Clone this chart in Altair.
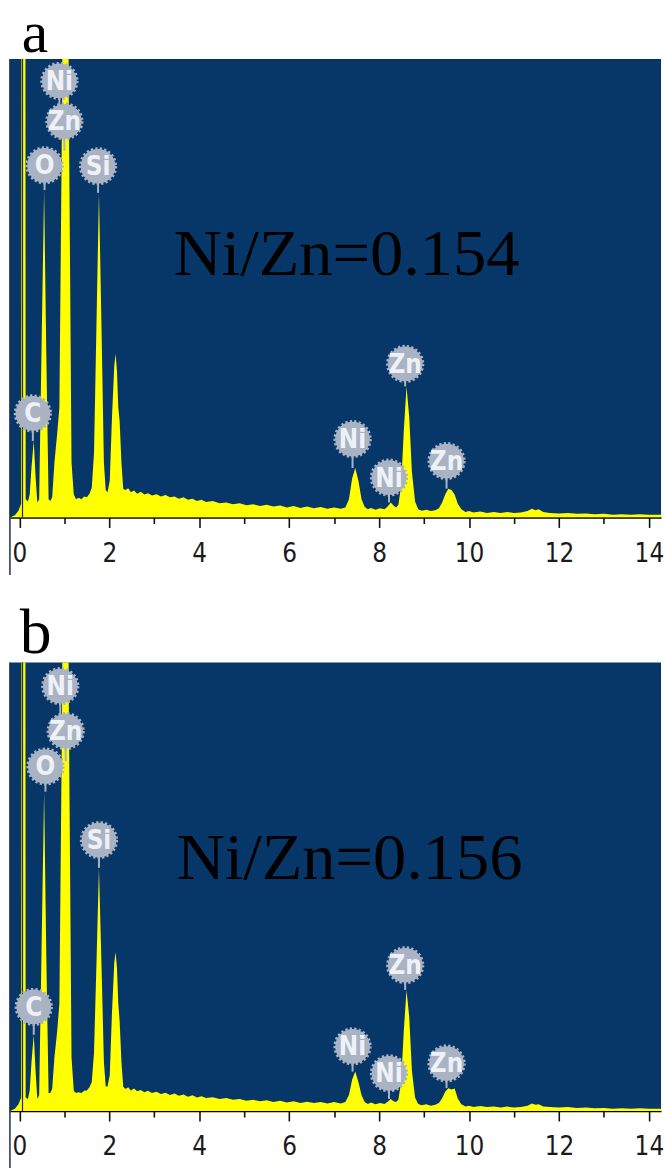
import altair as alt
import pandas as pd

# ---------------- data ----------------
tick_values = [0, 0.5, 1, 1.5, 2, 2.5, 3, 3.5, 4, 4.5, 5, 5.5, 6, 6.5, 7,
               7.5, 8, 8.5, 9, 9.5, 10, 10.5, 11, 11.5, 12, 12.5, 13, 13.5, 14]

# (energy keV, intensity as % of plot height)
spectrum_a = [
    (-0.21, 0.0), (-0.10, 0.5), (-0.02, 1.5), (0.04, 3.0), (0.05, 200), (0.13, 200), (0.14, 4.0),
    (0.19, 3.5), (0.23, 5.0), (0.27, 11), (0.32, 16.7), (0.36, 9), (0.40, 3.2), (0.44, 4.0),
    (0.49, 35), (0.55, 71.4), (0.60, 35), (0.65, 4.0), (0.69, 3.6), (0.73, 4.5), (0.78, 12),
    (0.84, 18.2), (0.89, 24), (0.95, 90), (1.02, 250), (1.10, 90), (1.16, 12), (1.21, 5.0),
    (1.26, 4.0), (1.32, 4.3), (1.38, 4.0), (1.44, 4.6), (1.50, 4.4), (1.56, 5.2), (1.61, 6.5),
    (1.66, 14), (1.72, 45), (1.77, 70.8), (1.82, 45), (1.88, 12), (1.92, 6.0), (1.96, 5.5),
    (2.01, 8), (2.06, 22), (2.11, 33), (2.14, 35.7), (2.17, 32), (2.20, 24), (2.23, 21),
    (2.27, 12), (2.31, 6.2), (2.36, 6.0), (2.42, 6.4), (2.48, 5.5), (2.55, 5.9), (2.62, 5.2),
    (2.70, 5.6), (2.78, 5.0), (2.86, 5.3), (2.95, 4.8), (3.05, 5.1), (3.15, 4.6), (3.25, 4.9),
    (3.35, 4.4), (3.45, 4.6), (3.55, 4.1), (3.65, 4.4), (3.75, 3.9), (3.85, 4.1), (3.95, 3.6),
    (4.05, 3.9), (4.15, 3.4), (4.30, 3.6), (4.45, 3.1), (4.60, 3.3), (4.75, 2.9), (4.90, 3.1),
    (5.05, 2.7), (5.20, 2.9), (5.35, 2.5), (5.50, 2.8), (5.65, 2.4), (5.80, 2.6), (5.95, 2.2),
    (6.10, 2.5), (6.25, 2.1), (6.40, 2.4), (6.55, 2.0), (6.70, 2.3), (6.85, 1.9), (7.00, 2.2),
    (7.15, 1.9), (7.25, 2.2), (7.33, 4.0), (7.40, 8.5), (7.47, 10.8), (7.54, 8.0), (7.61, 4.0),
    (7.68, 2.3), (7.75, 1.8), (7.82, 2.1), (7.92, 1.7), (8.02, 2.0), (8.12, 1.8), (8.19, 2.4),
    (8.26, 3.3), (8.32, 2.6), (8.38, 2.2), (8.43, 2.8), (8.49, 7.0), (8.55, 19), (8.61, 28.6),
    (8.67, 22), (8.73, 10), (8.80, 3.5), (8.87, 1.8), (8.95, 1.5), (9.05, 1.7), (9.15, 1.4),
    (9.25, 1.6), (9.33, 2.0), (9.40, 3.2), (9.47, 5.0), (9.54, 6.3), (9.61, 6.0), (9.68, 5.0),
    (9.75, 3.0), (9.83, 1.8), (9.92, 1.2), (10.00, 1.4), (10.10, 1.1), (10.25, 1.3), (10.40, 1.0),
    (10.55, 1.2), (10.70, 1.0), (10.85, 1.2), (11.00, 1.0), (11.15, 1.1), (11.30, 1.4), (11.40, 1.9),
    (11.48, 1.6), (11.55, 1.8), (11.65, 1.2), (11.80, 1.0), (12.00, 0.9), (12.20, 1.0), (12.40, 0.8),
    (12.60, 0.9), (12.80, 0.7), (13.00, 0.8), (13.20, 0.6), (13.40, 0.7), (13.60, 0.6), (13.80, 0.7),
    (14.00, 0.6), (14.27, 0.6),
]

spectrum_b = [
    (-0.21, 0.0), (-0.10, 0.5), (-0.02, 1.5), (0.04, 3.0), (0.05, 200), (0.13, 200), (0.14, 3.0),
    (0.19, 2.7), (0.23, 4.5), (0.27, 11), (0.32, 17.0), (0.36, 9), (0.40, 2.7), (0.44, 3.5),
    (0.49, 34), (0.55, 71.2), (0.60, 34), (0.65, 4.0), (0.69, 4.0), (0.73, 5.0), (0.78, 12),
    (0.84, 17.7), (0.89, 24), (0.95, 90), (1.02, 250), (1.10, 90), (1.16, 12), (1.21, 4.5),
    (1.26, 4.0), (1.32, 4.2), (1.38, 4.0), (1.44, 4.5), (1.50, 4.6), (1.56, 5.3), (1.61, 6.5),
    (1.66, 13), (1.72, 35), (1.77, 54.2), (1.82, 35), (1.88, 11), (1.92, 5.5), (1.96, 5.5),
    (2.01, 8), (2.06, 22), (2.11, 33), (2.14, 35.4), (2.17, 32), (2.20, 24), (2.23, 20),
    (2.27, 11), (2.31, 5.4), (2.36, 4.9), (2.42, 5.3), (2.48, 4.6), (2.55, 5.0), (2.62, 4.4),
    (2.70, 4.7), (2.78, 4.2), (2.86, 4.5), (2.95, 4.0), (3.05, 4.3), (3.15, 3.8), (3.25, 4.1),
    (3.35, 3.6), (3.45, 3.9), (3.55, 3.4), (3.65, 3.7), (3.75, 3.2), (3.85, 3.5), (3.95, 3.0),
    (4.05, 3.3), (4.15, 2.9), (4.30, 3.1), (4.45, 2.7), (4.60, 2.9), (4.75, 2.5), (4.90, 2.7),
    (5.05, 2.3), (5.20, 2.5), (5.35, 2.2), (5.50, 2.4), (5.65, 2.0), (5.80, 2.3), (5.95, 1.9),
    (6.10, 2.2), (6.25, 1.8), (6.40, 2.1), (6.55, 1.8), (6.70, 2.0), (6.85, 1.7), (7.00, 2.0),
    (7.15, 1.7), (7.25, 2.0), (7.33, 3.6), (7.40, 7.0), (7.47, 8.8), (7.54, 6.5), (7.61, 3.5),
    (7.68, 2.0), (7.75, 1.6), (7.82, 1.9), (7.92, 1.5), (8.02, 1.8), (8.12, 1.6), (8.19, 2.1),
    (8.26, 2.7), (8.32, 2.2), (8.38, 2.0), (8.43, 2.6), (8.49, 6.5), (8.55, 18), (8.61, 27),
    (8.67, 21), (8.73, 9), (8.80, 3.0), (8.87, 1.6), (8.95, 1.3), (9.05, 1.5), (9.15, 1.2),
    (9.25, 1.4), (9.33, 1.8), (9.40, 2.8), (9.47, 4.3), (9.54, 5.1), (9.61, 4.8), (9.68, 5.0),
    (9.75, 2.8), (9.83, 1.5), (9.92, 1.0), (10.00, 1.2), (10.10, 0.9), (10.25, 1.1), (10.40, 0.9),
    (10.55, 1.0), (10.70, 0.8), (10.85, 1.0), (11.00, 0.8), (11.15, 0.9), (11.30, 1.2), (11.40, 1.7),
    (11.48, 1.4), (11.55, 1.5), (11.65, 1.0), (11.80, 0.9), (12.00, 0.8), (12.20, 0.9), (12.40, 0.7),
    (12.60, 0.8), (12.80, 0.6), (13.00, 0.7), (13.20, 0.5), (13.40, 0.6), (13.60, 0.5), (13.80, 0.6),
    (14.00, 0.5), (14.27, 0.5),
]

element_names = ["C", "O", "Ni", "Zn", "Si", "Ni", "Ni", "Zn", "Zn"]

label_energy_a = [0.30, 0.56, 0.89, 1.00, 1.75, 7.41, 8.22, 8.58, 9.50]
label_level_a = [22.7, 76.8, 95.2, 86.4, 76.6, 17.1, 8.7, 33.5, 12.3]
stem_end_a = [16.7, 71.4, 86.4, 80.0, 70.8, 10.8, 3.3, 28.6, 6.3]

label_energy_b = [0.32, 0.58, 0.91, 1.03, 1.77, 7.41, 8.22, 8.58, 9.50]
label_level_b = [23.2, 76.8, 94.7, 84.7, 60.4, 14.4, 8.4, 32.5, 10.6]
stem_end_b = [17.0, 71.2, 84.7, 78.0, 54.2, 8.8, 2.7, 27.0, 5.1]

ratio_a = "Ni/Zn=0.154"
ratio_b = "Ni/Zn=0.156"

# ---------------- styling ----------------
BG = "#073769"
YELLOW = "#ffff00"
BADGE = "#aab3c3"
NARROW = "Liberation Sans Narrow, DejaVu Sans Condensed, Arial Narrow, sans-serif"
SERIF = "Liberation Serif, Times New Roman, serif"

x_scale = alt.Scale(domain=[-0.21, 14.27], nice=False, zero=False)
y_scale = alt.Scale(domain=[0, 100], nice=False, zero=False)

x_axis = alt.Axis(
    values=tick_values, title=None, grid=False,
    domainColor="black", domainWidth=1.5,
    tickColor="#111111", tickWidth=1.6,
    tickSize={"condition": {"test": "datum.value % 2 === 0", "value": 10}, "value": 6},
    labelExpr="datum.value % 2 === 0 ? '' + datum.value : ''",
    labelFont=NARROW, labelFontSize=26, labelColor="#1a1a1a",
    labelPadding=13, labelOverlap=False, labelFlush=False,
)


def panel(spectrum, lab_e, lab_l, stem_e, ratio, letter, height, ratio_x,
          letter_dx, letter_dy, letter_size):
    spec_df = pd.DataFrame(spectrum, columns=["E", "I"])
    lab_df = pd.DataFrame({"E": lab_e, "L": lab_l, "S": stem_e, "N": element_names})
    one = pd.DataFrame({"k": [0]})

    area = alt.Chart(spec_df).mark_area(color=YELLOW, clip=True, interpolate="linear").encode(
        x=alt.X("E:Q", scale=x_scale, axis=x_axis),
        y=alt.Y("I:Q", scale=y_scale, axis=None),
    )
    zero_line = alt.Chart(pd.DataFrame({"E": [0.07]})).mark_rule(
        color="#2b2b18", strokeWidth=1.2).encode(x=alt.X("E:Q", scale=x_scale))
    border = alt.Chart(one).mark_rule(color="#1c2c5c", strokeWidth=1.5).encode(
        x=alt.value(0), y=alt.value(0), y2=alt.value(height + 58))
    stems = alt.Chart(lab_df).mark_rule(color=BADGE, strokeWidth=2).encode(
        x=alt.X("E:Q", scale=x_scale), y=alt.Y("L:Q", scale=y_scale), y2="S:Q")
    badges = alt.Chart(lab_df).mark_point(
        shape="circle", filled=True, size=1225, fill=BADGE, fillOpacity=1,
        stroke=BADGE, strokeWidth=3.5, strokeDash=[2.2, 2.2], strokeOpacity=1,
    ).encode(x=alt.X("E:Q", scale=x_scale), y=alt.Y("L:Q", scale=y_scale))
    names = alt.Chart(lab_df).mark_text(
        font=NARROW, fontSize=26, fontWeight="bold", color="#eef2f7",
        align="center", baseline="middle", dy=1,
    ).encode(x=alt.X("E:Q", scale=x_scale), y=alt.Y("L:Q", scale=y_scale), text="N:N")
    ratio_txt = alt.Chart(pd.DataFrame({"t": [ratio]})).mark_text(
        font=SERIF, fontSize=67, color="black", align="left", baseline="alphabetic",
    ).encode(x=alt.value(ratio_x), y=alt.value(218), text="t:N")
    letter_txt = alt.Chart(pd.DataFrame({"t": [letter]})).mark_text(
        font=SERIF, fontSize=letter_size, color="black", align="left", baseline="alphabetic",
    ).encode(x=alt.value(letter_dx), y=alt.value(letter_dy), text="t:N")

    return alt.layer(area, zero_line, border, stems, badges, names, ratio_txt, letter_txt).properties(
        width=656, height=height)


pa = panel(spectrum_a, label_energy_a, label_level_a, stem_end_a, ratio_a, "a", 462, 165, 12, -7, 60)
pb = panel(spectrum_b, label_energy_b, label_level_b, stem_end_b, ratio_b, "b", 452, 168, 10, -10, 64)

chart = alt.vconcat(pa, pb, spacing=146, bounds="flush").properties(
    padding={"left": 8, "top": 0, "right": 0, "bottom": 0},
    background="white",
).configure_view(fill=BG, strokeWidth=0)

chart.save("out.html", embed_options={"renderer": "svg", "actions": False})
